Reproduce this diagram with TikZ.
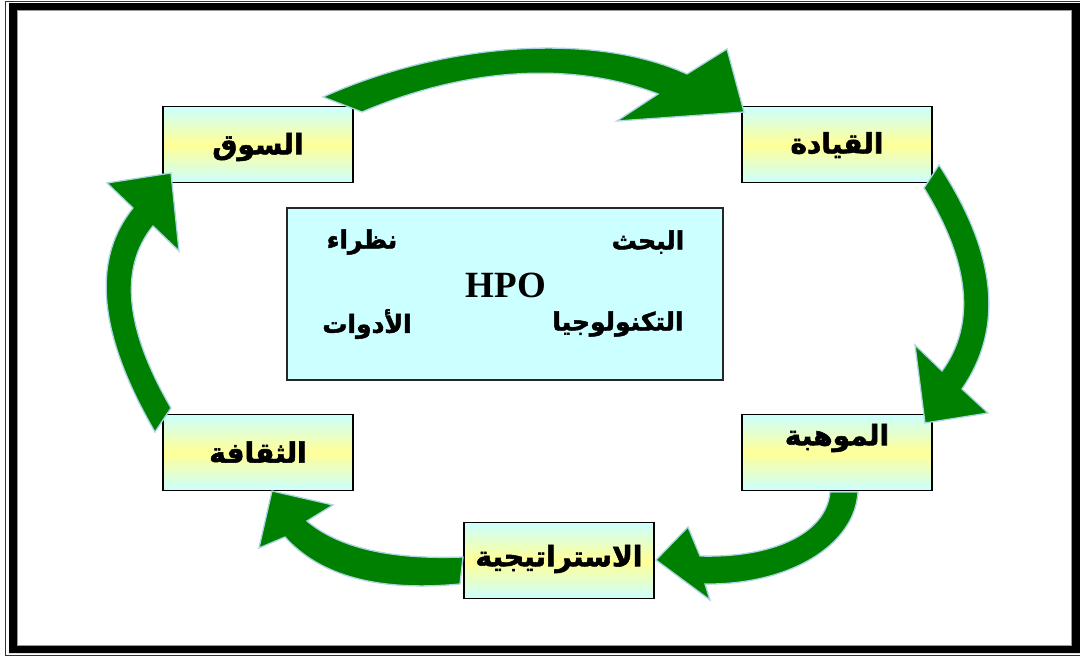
\documentclass[tikz,border=0pt]{standalone}
\usepackage{fontspec}
\setmainfont{Liberation Serif}
\newfontfamily\arabicfont[Script=Arabic, BoldFeatures={FakeBold=2}]{DejaVu Sans}
\TeXXeTstate=1
\newcommand{\artxt}[1]{{\arabicfont\bfseries\beginR #1\endR}}
\definecolor{arrowgreen}{RGB}{0,128,0}
\definecolor{arrowedge}{RGB}{172,212,226}
\definecolor{paleCyan}{RGB}{204,255,255}
\definecolor{paleYellow}{RGB}{255,255,150}
\tikzset{
  labelbox/.style={draw=black, line width=1.8pt, minimum width=190pt, minimum height=76pt,
    top color=paleCyan, bottom color=paleCyan, middle color=paleYellow,
    inner sep=0pt},
  boxtext/.style={font=\fontsize{28}{32}\selectfont, inner sep=0pt},
  corebox/.style={draw=black!85, line width=1.4pt, fill=paleCyan, minimum width=436pt, minimum height=172pt},
  coretext/.style={font=\fontsize{25}{28}\selectfont, inner sep=0pt},
  blockarrow/.style={fill=arrowgreen, draw=arrowedge, line width=1.3pt, line join=miter},
}
\begin{document}
\begin{tikzpicture}[x=1pt,y=-1pt]
\useasboundingbox (0,0) rectangle (1080,657);
\fill[white] (0,0) rectangle (1080,657);
% page frame
\draw[black!80, line width=1pt] (5.5,1.5) rectangle (1090,655.5);
\fill[black, even odd rule] (9,3) rectangle (1090,653) (17,10) rectangle (1071,646);
\draw[black!40, line width=0.8pt] (17,10.5) rectangle (1071,645.5);

% cycle of stages
\node[labelbox] (souq) at (258,144.5) {};
\node[labelbox] (qiyada) at (837,144.5) {};
\node[labelbox] (mawhiba) at (837,452.5) {};
\node[labelbox] (strategy) at (559,560.5) {};
\node[labelbox] (thaqafa) at (258,452.5) {};
\node[boxtext] (souqText) at (258,147) {\artxt{السوق}};
\node[boxtext] (qiyadaText) at (837,145) {\artxt{القيادة}};
\node[boxtext] (mawhibaText) at (837,438) {\artxt{الموهبة}};
\node[boxtext] (strategyText) at (559,559) {\artxt{الاستراتيجية}};
\node[boxtext] (thaqafaText) at (258,452) {\artxt{الثقافة}};

% central box
\node[corebox] (core) at (505,294) {};
\node[coretext] (bahth) at (648,242) {\artxt{البحث}};
\node[coretext] (nuzara) at (362,242) {\artxt{نظراء}};
\node[coretext, font=\fontsize{37}{40}\selectfont\bfseries] (hpo) at (506,285) {HPO};
\node[coretext] (tech) at (618,324) {\artxt{التكنولوجيا}};
\node[coretext] (adawat) at (367,324) {\artxt{الأدوات}};

% curved block arrows
\draw[blockarrow] (362,112) -- (323,97)
  .. controls (445,42) and (595,32) .. (687,74)
  -- (727,49) -- (744,112) -- (617,121) -- (658,94)
  .. controls (575,62) and (470,66) .. (362,112) -- cycle;

\draw[blockarrow] (924,188) -- (939,165)
  .. controls (996.7,253) and (1004.3,327.7) .. (962,389)
  -- (988,413) -- (925,423) -- (915,345) -- (942,371)
  .. controls (976,324) and (970,263) .. (924,188) -- cycle;

\draw[blockarrow] (830,492) -- (858,492)
  .. controls (855,545) and (790,585) .. (705,584)
  -- (710,600) -- (656,560) -- (688,527) -- (700,556)
  .. controls (770,558) and (826,535) .. (830,492) -- cycle;

\draw[blockarrow] (463,557) -- (460,584)
  .. controls (378.3,591.7) and (320,576) .. (285,537)
  -- (259,548) -- (272,491) -- (333,505) -- (307,521)
  .. controls (339,548) and (391,559.7) .. (463,557) -- cycle;

\draw[blockarrow] (171,408) -- (155,432)
  .. controls (98.3,334.7) and (91,260) .. (133,208)
  -- (107,183) -- (171,173) -- (179,251) -- (153,226)
  .. controls (119,268) and (125,328.7) .. (171,408) -- cycle;
\end{tikzpicture}
\end{document}
